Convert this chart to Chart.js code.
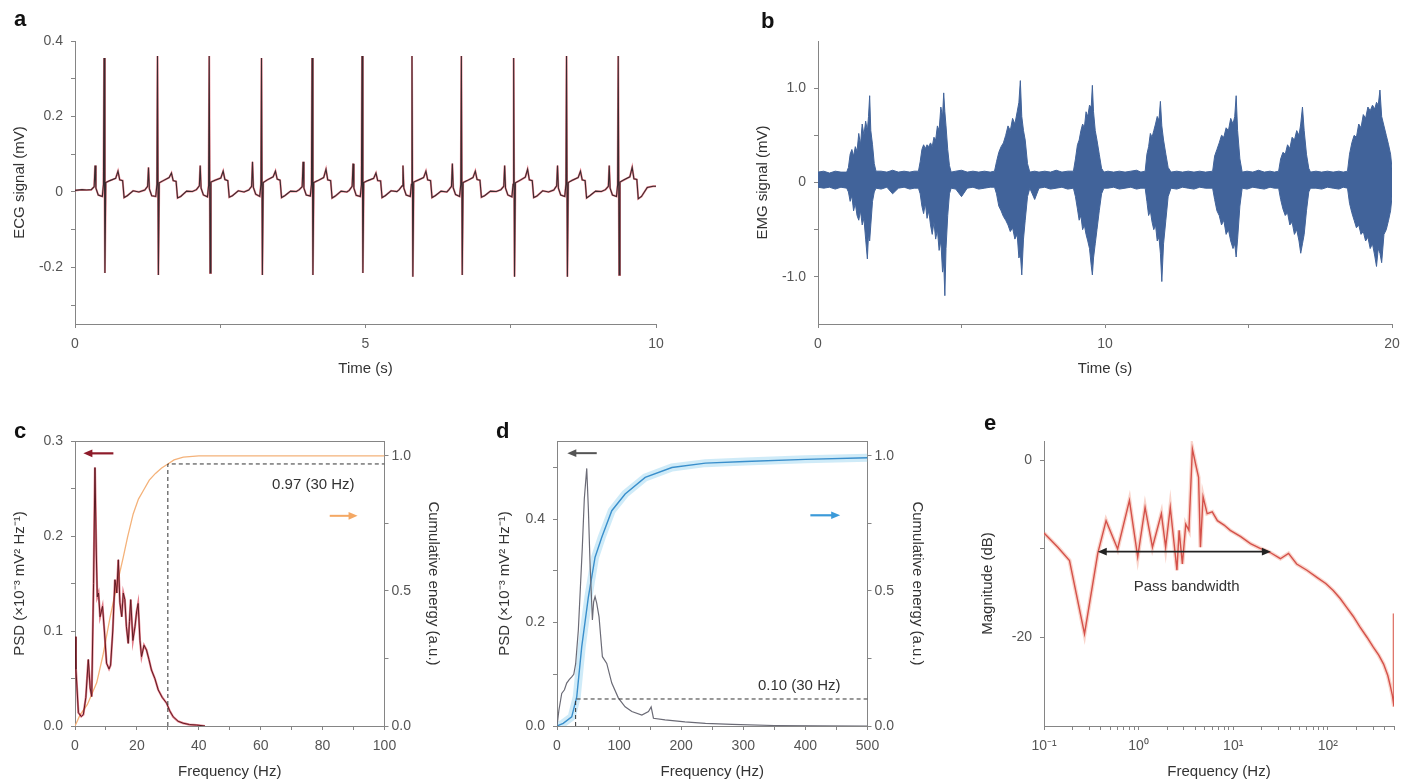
<!DOCTYPE html>
<html><head><meta charset="utf-8">
<script src="https://cdn.jsdelivr.net/npm/chart.js@4.4.1/dist/chart.umd.min.js"></script>
<style>
html,body{margin:0;padding:0;background:#fff;}
#fig{position:relative;width:1413px;height:783px;overflow:hidden;background:#fff;}
canvas{position:absolute;}
.lbl{position:absolute;font:bold 22px 'Liberation Sans',Arial,sans-serif;color:#111;line-height:1;}
</style></head><body>
<div id="fig">
<canvas id="ca" width="700" height="390" style="left:0;top:0;width:700px;height:390px"></canvas>
<canvas id="cb" width="673" height="390" style="left:740px;top:0;width:673px;height:390px"></canvas>
<canvas id="cc" width="480" height="383" style="left:0;top:400px;width:480px;height:383px"></canvas>
<canvas id="cd" width="470" height="383" style="left:480px;top:400px;width:470px;height:383px"></canvas>
<canvas id="ce" width="463" height="383" style="left:950px;top:400px;width:463px;height:383px"></canvas>
<div class="lbl" style="left:14px;top:8px">a</div>
<div class="lbl" style="left:761px;top:10px">b</div>
<div class="lbl" style="left:14px;top:420px">c</div>
<div class="lbl" style="left:496px;top:420px">d</div>
<div class="lbl" style="left:984px;top:412px">e</div>
</div>
<script>
// ---------- Panel a: ECG ----------
const ecgTime = [0,0.12,0.2,
0.28,0.33,0.345,0.36,0.40,0.47,0.49,0.50,0.515,0.53,0.60,0.70,0.74,0.77,0.82,0.845,0.90,1.00,1.10,
1.20,1.25,1.265,1.28,1.32,1.39,1.41,1.42,1.435,1.45,1.52,1.62,1.66,1.69,1.74,1.765,1.82,1.92,2.02,
2.09,2.14,2.155,2.17,2.21,2.28,2.30,2.31,2.325,2.34,2.41,2.51,2.55,2.58,2.63,2.655,2.71,2.81,2.91,
2.99,3.04,3.055,3.07,3.11,3.18,3.20,3.21,3.225,3.24,3.31,3.41,3.45,3.48,3.53,3.555,3.61,3.71,3.81,
3.86,3.91,3.925,3.94,3.98,4.05,4.07,4.08,4.095,4.11,4.18,4.28,4.32,4.35,4.40,4.425,4.48,4.58,4.68,
4.72,4.77,4.785,4.80,4.84,4.91,4.93,4.94,4.955,4.97,5.04,5.14,5.18,5.21,5.26,5.285,5.34,5.44,5.54,
5.58,5.63,5.645,5.66,5.70,5.77,5.79,5.80,5.815,5.83,5.90,6.00,6.04,6.07,6.12,6.145,6.20,6.30,6.40,
6.43,6.48,6.495,6.51,6.55,6.62,6.64,6.65,6.665,6.68,6.75,6.85,6.89,6.92,6.97,6.995,7.05,7.15,7.25,
7.33,7.38,7.395,7.41,7.45,7.52,7.54,7.55,7.565,7.58,7.65,7.75,7.79,7.82,7.87,7.895,7.95,8.05,8.15,
8.24,8.29,8.305,8.32,8.36,8.43,8.45,8.46,8.475,8.49,8.56,8.66,8.70,8.73,8.78,8.805,8.86,8.96,9.06,
9.13,9.18,9.195,9.21,9.25,9.32,9.34,9.35,9.365,9.38,9.45,9.55,9.59,9.62,9.67,9.695,9.75,9.85,9.95,
10.0];
const ecgValue = [0.004,0.006,0.005,
0.006,0.014,0.07,0.01,-0.008,-0.012,0.02,0.355,-0.215,0.025,0.03,0.036,0.055,0.032,0.03,-0.015,-0.01,0.003,0.0,
0.005,0.015,0.065,0.008,-0.01,-0.012,0.02,0.36,-0.22,0.024,0.03,0.038,0.05,0.03,0.028,-0.016,-0.012,0.002,0.001,
0.006,0.016,0.07,0.01,-0.008,-0.013,0.018,0.36,-0.215,0.026,0.031,0.037,0.055,0.033,0.03,-0.014,-0.01,0.003,0.0,
0.005,0.015,0.08,0.012,-0.006,-0.012,0.02,0.355,-0.22,0.025,0.032,0.04,0.055,0.034,0.031,-0.015,-0.01,0.002,0.001,
0.006,0.014,0.08,0.01,-0.008,-0.011,0.02,0.355,-0.22,0.025,0.03,0.038,0.06,0.032,0.03,-0.016,-0.011,0.002,0.0,
0.004,0.015,0.075,0.01,-0.009,-0.012,0.019,0.36,-0.215,0.025,0.03,0.036,0.05,0.03,0.029,-0.015,-0.01,0.003,0.001,
0.006,0.016,0.07,0.01,-0.008,-0.012,0.02,0.36,-0.225,0.026,0.031,0.038,0.055,0.032,0.03,-0.015,-0.01,0.002,0.0,
0.005,0.015,0.075,0.011,-0.007,-0.012,0.02,0.36,-0.22,0.025,0.03,0.038,0.055,0.033,0.031,-0.014,-0.01,0.002,0.001,
0.006,0.015,0.07,0.01,-0.008,-0.013,0.02,0.355,-0.225,0.024,0.03,0.039,0.06,0.032,0.03,-0.015,-0.011,0.003,0.0,
0.005,0.016,0.07,0.01,-0.008,-0.012,0.021,0.36,-0.225,0.025,0.031,0.038,0.055,0.032,0.03,-0.016,-0.01,0.002,0.001,
0.006,0.015,0.07,0.01,-0.008,-0.012,0.02,0.36,-0.22,0.026,0.032,0.04,0.065,0.035,0.033,-0.018,-0.012,0.012,0.015,
0.015];

// ---------- Panel b: EMG envelope ----------
const emgTime = [0,0.2,0.4,0.6,0.8,
1.00,1.06,1.12,1.18,1.24,1.30,1.36,1.42,1.48,1.54,1.60,1.66,1.72,1.76,1.80,1.84,1.90,1.96,2.02,
2.2,2.4,2.6,2.8,3.0,3.2,3.35,
3.50,3.56,3.62,3.68,3.74,3.80,3.86,3.92,3.98,4.04,4.10,4.16,4.22,4.28,4.34,4.38,4.42,4.46,4.52,4.58,4.64,
4.8,5.0,5.2,5.4,5.6,5.8,6.0,
6.15,6.22,6.30,6.38,6.46,6.54,6.62,6.70,6.78,6.86,6.94,7.00,7.05,7.10,7.16,7.22,7.30,7.38,
7.55,7.7,7.9,8.1,8.3,8.5,8.7,
8.90,8.97,9.04,9.10,9.16,9.22,9.28,9.34,9.40,9.46,9.52,9.56,9.60,9.66,9.72,9.80,9.88,9.96,
10.1,10.3,10.5,10.7,10.9,11.1,11.25,
11.40,11.46,11.52,11.58,11.64,11.70,11.76,11.82,11.88,11.93,11.98,12.04,12.12,12.20,12.30,
12.5,12.7,12.9,13.1,13.3,13.5,
13.75,13.82,13.90,13.98,14.06,14.14,14.22,14.30,14.38,14.46,14.52,14.57,14.62,14.70,14.78,
14.95,15.15,15.35,15.55,15.75,15.9,
16.05,16.12,16.20,16.28,16.36,16.44,16.52,16.60,16.68,16.76,16.82,16.88,16.94,17.02,17.10,17.16,
17.35,17.55,17.75,17.95,18.15,18.3,
18.45,18.52,18.60,18.68,18.76,18.84,18.92,19.00,19.08,19.16,19.24,19.32,19.40,19.46,19.52,19.58,19.64,19.72,19.80,19.88,19.95,20.00];
const emgUpper = [0.11,0.12,0.10,0.12,0.11,
0.11,0.16,0.30,0.35,0.28,0.38,0.33,0.52,0.40,0.62,0.50,0.65,0.55,0.70,0.92,0.55,0.40,0.20,0.12,
0.12,0.11,0.13,0.11,0.12,0.11,0.12,
0.12,0.22,0.35,0.40,0.36,0.40,0.38,0.42,0.38,0.48,0.45,0.60,0.55,0.80,0.70,0.95,0.75,0.60,0.35,0.18,0.11,
0.12,0.13,0.11,0.12,0.11,0.12,0.11,
0.12,0.22,0.32,0.38,0.42,0.50,0.60,0.55,0.68,0.62,0.75,0.85,1.08,0.70,0.55,0.45,0.20,0.11,
0.12,0.11,0.12,0.11,0.13,0.11,0.12,
0.12,0.25,0.40,0.45,0.55,0.62,0.58,0.75,0.70,0.82,0.80,1.03,0.75,0.55,0.45,0.30,0.15,0.11,
0.12,0.11,0.12,0.11,0.12,0.13,0.11,
0.12,0.30,0.38,0.52,0.48,0.55,0.62,0.70,0.66,0.86,0.60,0.45,0.30,0.16,0.11,
0.12,0.11,0.12,0.11,0.12,0.11,
0.12,0.28,0.35,0.42,0.50,0.48,0.58,0.55,0.68,0.62,0.70,0.92,0.55,0.25,0.11,
0.12,0.11,0.13,0.11,0.12,0.11,
0.12,0.25,0.32,0.30,0.40,0.36,0.48,0.45,0.55,0.50,0.62,0.80,0.55,0.30,0.15,0.11,
0.12,0.11,0.12,0.11,0.12,0.11,
0.12,0.30,0.42,0.50,0.48,0.62,0.58,0.72,0.68,0.80,0.76,0.82,0.78,0.85,0.82,0.98,0.70,0.60,0.50,0.40,0.30,0.15];
const emgLower = [-0.05,-0.06,-0.05,-0.07,-0.05,
-0.06,-0.10,-0.20,-0.14,-0.30,-0.22,-0.35,-0.40,-0.30,-0.45,-0.38,-0.60,-0.81,-0.55,-0.62,-0.45,-0.20,-0.10,-0.06,
-0.07,-0.05,-0.12,-0.06,-0.05,-0.07,-0.06,
-0.06,-0.12,-0.25,-0.33,-0.22,-0.38,-0.30,-0.45,-0.55,-0.42,-0.60,-0.50,-0.72,-0.62,-0.95,-0.85,-1.20,-0.70,-0.35,-0.12,-0.06,
-0.07,-0.15,-0.06,-0.05,-0.07,-0.06,-0.05,
-0.05,-0.12,-0.25,-0.30,-0.36,-0.40,-0.45,-0.52,-0.48,-0.60,-0.55,-0.80,-0.75,-0.98,-0.60,-0.40,-0.15,-0.06,
-0.18,-0.06,-0.05,-0.07,-0.06,-0.05,-0.07,
-0.06,-0.15,-0.28,-0.40,-0.35,-0.50,-0.45,-0.55,-0.62,-0.70,-0.88,-0.98,-0.80,-0.65,-0.50,-0.30,-0.12,-0.06,
-0.06,-0.05,-0.07,-0.06,-0.05,-0.07,-0.06,
-0.06,-0.20,-0.35,-0.30,-0.42,-0.50,-0.45,-0.62,-0.58,-0.75,-1.05,-0.65,-0.40,-0.15,-0.06,
-0.07,-0.05,-0.06,-0.07,-0.05,-0.06,
-0.06,-0.18,-0.30,-0.35,-0.45,-0.40,-0.55,-0.50,-0.62,-0.70,-0.65,-0.79,-0.60,-0.25,-0.06,
-0.07,-0.05,-0.06,-0.07,-0.05,-0.06,
-0.06,-0.18,-0.28,-0.35,-0.32,-0.45,-0.42,-0.55,-0.50,-0.62,-0.75,-0.65,-0.55,-0.30,-0.10,-0.06,
-0.06,-0.07,-0.05,-0.06,-0.07,-0.05,
-0.06,-0.22,-0.32,-0.40,-0.48,-0.45,-0.55,-0.52,-0.62,-0.58,-0.70,-0.65,-0.78,-0.89,-0.70,-0.75,-0.85,-0.55,-0.50,-0.40,-0.30,-0.15];

// ---------- Panel c: ECG PSD + cumulative energy ----------
const cFreq = [0,0.3,1.1,2.0,2.7,3.5,4.3,4.9,5.4,6.0,
6.45,6.9,7.2,7.6,8.1,8.9,9.5,10.2,11.0,11.5,
12.2,12.9,13.5,14.0,14.5,15.1,15.6,16.1,16.6,17.2,
17.6,18.0,18.7,19.4,19.9,20.4,21.0,21.5,22.3,23.1,
23.9,24.7,25.8,26.9,28.2,29.6,30.6,31.7,33.3,34.9,
37.0,39.3,42.0];
const cPsd = [0.094,0.06,0.014,0.01,0.012,0.03,0.07,0.04,0.031,0.15,
0.272,0.18,0.136,0.14,0.115,0.126,0.10,0.066,0.06,0.064,
0.10,0.154,0.14,0.175,0.13,0.115,0.14,0.133,0.105,0.087,
0.11,0.133,0.09,0.105,0.12,0.129,0.09,0.073,0.085,0.08,
0.07,0.059,0.05,0.038,0.03,0.024,0.016,0.0098,0.005,0.003,
0.0015,0.001,0];
const cCumFreq = [0,1.6,4,7,9,11.3,13.5,15.6,17,18.8,20.5,22,24,26,28,30,32,35,40,50,70,100];
const cCum = [0,0.04,0.08,0.16,0.26,0.40,0.52,0.625,0.70,0.785,0.84,0.87,0.91,0.935,0.955,0.97,0.985,0.995,1.0,1.0,1.0,1.0];
const cMarkFreq = 30, cMarkEnergy = 0.97;

// ---------- Panel d: EMG PSD + cumulative energy ----------
const dFreq = [0,3,7.6,12,15.6,20,23.7,27,30,34.4,
40.8,44,47.9,50.5,53.2,57,59,61.3,64,67.7,
73.1,80.1,88.2,98.9,109.7,120.5,136.6,147.3,151.6,155.3,
174,206,239,282,350,420,500];
const dPsd = [0,0.03,0.063,0.07,0.083,0.09,0.095,0.1,0.12,0.186,
0.346,0.44,0.498,0.42,0.314,0.205,0.24,0.25,0.237,0.211,
0.134,0.121,0.083,0.054,0.037,0.028,0.021,0.028,0.037,0.015,
0.012,0.008,0.005,0.003,0.001,0.0005,0];
const dCumFreq = [0,10,23.7,31.8,39.8,50.5,61.3,72.1,88.2,109.7,142,185,239,303,400,500];
const dCum = [0,0.01,0.034,0.108,0.293,0.477,0.625,0.699,0.797,0.859,0.92,0.957,0.973,0.979,0.987,0.993];
const dMarkFreq = 30, dMarkEnergy = 0.10;

// ---------- Panel e: magnitude response ----------
const eFreq = [0.1,0.14,0.186,0.268,0.37,0.453,0.6,0.8,0.978,1.17,
1.4,1.74,1.93,2.16,2.54,2.68,2.9,3.15,3.4,3.7,
4.0,4.3,4.5,4.8,5.3,6.0,6.8,8.0,9.3,12,
15.2,19,24.6,31.5,38.4,46.8,60,76.5,95,114,
135,158,185,218,260,302,345,388,430,460,
480,500,500];
const eMag = [-8.2,-9.8,-11.3,-19.6,-10.5,-6.8,-10,-4.5,-10.9,-5.3,
-9.8,-6.0,-9.8,-5.3,-12.4,-7.9,-11.7,-7.2,-7.9,1.3,
-0.4,-1.9,-9.8,-4.1,-6.0,-5.8,-6.8,-7.3,-7.9,-8.6,
-9.4,-9.9,-10.4,-11.1,-10.5,-11.7,-12.4,-13.2,-13.9,-14.7,
-15.6,-16.6,-17.6,-18.8,-20.0,-21.1,-22.0,-23.0,-24.3,-25.6,
-26.5,-27.8,-17.3];
const passBand = [0.37, 25], passLevel = -10.3;

// ---------- helpers ----------
const FONT = "'Liberation Sans', Arial, Helvetica, sans-serif";
Chart.defaults.font.family = FONT;
Chart.defaults.color = '#555';
const AX = '#858585';
function xy(xs, ys){ const n=Math.min(xs.length, ys.length); const o=[]; for(let i=0;i<n;i++) o.push({x:xs[i], y:ys[i]}); return o; }

function sc(o){
  return {
    type: o.type || 'linear',
    position: o.position,
    min: o.min, max: o.max,
    border: {display:true, color:AX, width:1},
    grid: {display:true, drawOnChartArea:false, drawTicks:true, tickLength:4, color:AX},
    ticks: {color:'#555', font:{size:14, family:FONT}, padding:(o.tickPad!=null?o.tickPad:8), autoSkip:false, maxRotation:0, minRotation:0,
            callback:(v)=> (o.labels[String(v)] !== undefined ? o.labels[String(v)] : '')},
    afterBuildTicks: s => { s.ticks = o.ticks.map(v=>({value:v})); },
    afterFit: s => { if (s.isHorizontal()) s.height = o.size; else s.width = o.size; },
    title: o.title ? {display:true, text:o.title, color:'#333', font:{size:15, family:FONT}, padding:o.titlePad} : {display:false}
  };
}

function drawArrow(ctx, xa, xb, y, color, lw, hs, he){
  const hl = 9, hw = 3.8;
  ctx.save();
  ctx.strokeStyle = color; ctx.fillStyle = color; ctx.lineWidth = lw;
  ctx.beginPath(); ctx.moveTo(xa + (hs?hl*0.7:0), y); ctx.lineTo(xb - (he?hl*0.7:0), y); ctx.stroke();
  if (hs){ ctx.beginPath(); ctx.moveTo(xa,y); ctx.lineTo(xa+hl,y-hw); ctx.lineTo(xa+hl,y+hw); ctx.closePath(); ctx.fill(); }
  if (he){ ctx.beginPath(); ctx.moveTo(xb,y); ctx.lineTo(xb-hl,y-hw); ctx.lineTo(xb-hl,y+hw); ctx.closePath(); ctx.fill(); }
  ctx.restore();
}

const annotPlugin = {
  id: 'annot',
  afterDatasetsDraw(chart, args, opts){
    const ctx = chart.ctx, ca = chart.chartArea;
    if (opts.topBorder){
      ctx.save(); ctx.strokeStyle = AX; ctx.lineWidth = 1;
      ctx.beginPath(); ctx.moveTo(ca.left, ca.top+0.5); ctx.lineTo(ca.right, ca.top+0.5); ctx.stroke(); ctx.restore();
    }
    (opts.arrows||[]).forEach(a=>{
      const xs = chart.scales.x, ys = chart.scales[a.axis||'y'];
      drawArrow(ctx, xs.getPixelForValue(a.x1), xs.getPixelForValue(a.x2), ys.getPixelForValue(a.y), a.color, a.width||2, a.hs, a.he);
    });
    (opts.texts||[]).forEach(t=>{
      const xs = chart.scales.x, ys = chart.scales[t.axis||'y'];
      ctx.save(); ctx.fillStyle = t.color||'#333'; ctx.font = (t.size||15)+'px '+FONT;
      ctx.textAlign='center'; ctx.textBaseline='middle';
      ctx.fillText(t.text, xs.getPixelForValue(t.x), ys.getPixelForValue(t.y));
      ctx.restore();
    });
  }
};
Chart.register(annotPlugin);

const common = {responsive:false, animation:false, devicePixelRatio:1,
  elements:{point:{radius:0}, line:{tension:0}},
  plugins:{legend:{display:false}, tooltip:{enabled:false}}};
function opts(extra){ return Object.assign({}, common, extra, {plugins:Object.assign({}, common.plugins, extra.plugins||{})}); }
function line(data, color, width, more){ return Object.assign({data, borderColor:color, borderWidth:width, pointRadius:0, fill:false}, more||{}); }

// ---------- a ----------
const ecgXY = xy(ecgTime, ecgValue);
new Chart(document.getElementById('ca'), {
  type:'line',
  data:{datasets:[
    line(ecgXY, '#3a2a2e', 1.1, {order:1}),
    line(ecgXY, 'rgba(222,32,52,0.55)', 2, {order:2})
  ]},
  options: opts({
    layout:{padding:{left:0, top:41, right:44, bottom:0}},
    scales:{
      x: sc({min:0, max:10, ticks:[0,2.5,5,7.5,10], labels:{'0':'0','5':'5','10':'10'}, size:66, title:'Time (s)', titlePad:{top:0,bottom:12}}),
      y: sc({min:-0.35, max:0.4, ticks:[-0.3,-0.2,-0.1,0,0.1,0.2,0.3,0.4], labels:{'-0.2':'-0.2','0':'0','0.2':'0.2','0.4':'0.4'}, size:75, title:'ECG signal (mV)', titlePad:{top:11,bottom:0}})
    }
  })
});

// ---------- b ----------
const EMG = '#41639a';
new Chart(document.getElementById('cb'), {
  type:'line',
  data:{datasets:[
    line(xy(emgTime, emgUpper), EMG, 1, {order:1}),
    line(xy(emgTime, emgLower), EMG, 1, {order:2, fill:'-1', backgroundColor:EMG})
  ]},
  options: opts({
    layout:{padding:{left:0, top:41, right:21, bottom:0}},
    scales:{
      x: sc({min:0, max:20, ticks:[0,5,10,15,20], labels:{'0':'0','10':'10','20':'20'}, size:66, title:'Time (s)', titlePad:{top:0,bottom:12}}),
      y: sc({min:-1.5, max:1.5, ticks:[-1,-0.5,0,0.5,1], labels:{'-1':'-1.0','0':'0','1':'1.0'}, size:78, title:'EMG signal (mV)', titlePad:{top:14,bottom:0}})
    }
  })
});

// ---------- c ----------
new Chart(document.getElementById('cc'), {
  type:'line',
  data:{datasets:[
    line([{x:cMarkFreq,y:0},{x:cMarkFreq,y:cMarkEnergy},{x:100,y:cMarkEnergy}], '#333', 1, {yAxisID:'y2', borderDash:[4,3], order:0}),
    line(xy(cFreq, cPsd), '#5e1a22', 1, {yAxisID:'y', order:1}),
    line(xy(cFreq, cPsd), 'rgba(208,36,56,0.6)', 2.2, {yAxisID:'y', order:2}),
    line(xy(cCumFreq, cCum), '#f4b27a', 1.3, {yAxisID:'y2', order:3})
  ]},
  options: opts({
    layout:{padding:{left:0, top:41, right:0, bottom:0}},
    scales:{
      x: sc({min:0, max:100, ticks:[0,10,20,30,40,50,60,70,80,90,100], labels:{'0':'0','20':'20','40':'40','60':'60','80':'80','100':'100'}, size:57, title:'Frequency (Hz)', titlePad:{top:0,bottom:2}}),
      y: sc({min:0, max:0.3, ticks:[0,0.05,0.1,0.15,0.2,0.25,0.3], labels:{'0':'0.0','0.1':'0.1','0.2':'0.2','0.3':'0.3'}, size:75, title:'PSD (×10⁻³ mV² Hz⁻¹)', titlePad:{top:11,bottom:0}}),
      y2: sc({position:'right', min:0, max:1.055, ticks:[0,0.25,0.5,0.75,1], labels:{'0':'0.0','0.5':'0.5','1':'1.0'}, size:95.5, tickPad:3, title:'Cumulative energy (a.u.)', titlePad:{top:38,bottom:0}})
    },
    plugins:{annot:{topBorder:true,
      arrows:[{x1:2.7, x2:12.4, y:0.287, axis:'y', color:'#8e1b2a', width:2.2, hs:true},
              {x1:82.3, x2:91.3, y:0.778, axis:'y2', color:'#f4a864', width:2, he:true}],
      texts:[{x:77, y:0.893, axis:'y2', text:'0.97 (30 Hz)'}]}}
  })
});

// ---------- d ----------
new Chart(document.getElementById('cd'), {
  type:'line',
  data:{datasets:[
    line([{x:dMarkFreq,y:0},{x:dMarkFreq,y:dMarkEnergy},{x:500,y:dMarkEnergy}], '#333', 1, {yAxisID:'y2', borderDash:[4,3], order:0}),
    line(xy(dFreq, dPsd), '#6b6b76', 1.2, {yAxisID:'y', order:1}),
    line(xy(dCumFreq, dCum), '#3a8fcc', 1.4, {yAxisID:'y2', order:2}),
    line(xy(dCumFreq, dCum), 'rgba(160,215,242,0.5)', 8, {yAxisID:'y2', order:3})
  ]},
  options: opts({
    layout:{padding:{left:0, top:41, right:0, bottom:0}},
    scales:{
      x: sc({min:0, max:500, ticks:[0,50,100,150,200,250,300,350,400,450,500], labels:{'0':'0','100':'100','200':'200','300':'300','400':'400','500':'500'}, size:57, title:'Frequency (Hz)', titlePad:{top:0,bottom:2}}),
      y: sc({min:0, max:0.551, ticks:[0,0.1,0.2,0.3,0.4,0.5], labels:{'0':'0.0','0.2':'0.2','0.4':'0.4'}, size:77, title:'PSD (×10⁻³ mV² Hz⁻¹)', titlePad:{top:16,bottom:0}}),
      y2: sc({position:'right', min:0, max:1.055, ticks:[0,0.25,0.5,0.75,1], labels:{'0':'0.0','0.5':'0.5','1':'1.0'}, size:82.5, tickPad:3, title:'Cumulative energy (a.u.)', titlePad:{top:24,bottom:0}})
    },
    plugins:{annot:{topBorder:true,
      arrows:[{x1:16.6, x2:64, y:0.5275, axis:'y', color:'#555', width:2, hs:true},
              {x1:408, x2:456, y:0.78, axis:'y2', color:'#3b9ad9', width:2.2, he:true}],
      texts:[{x:390, y:0.148, axis:'y2', text:'0.10 (30 Hz)'}]}}
  })
});

// ---------- e ----------
new Chart(document.getElementById('ce'), {
  type:'line',
  data:{datasets:[
    line(xy(eFreq, eMag), '#d4514a', 1.4, {order:1}),
    line(xy(eFreq, eMag), 'rgba(242,160,140,0.45)', 4, {order:2})
  ]},
  options: opts({
    layout:{padding:{left:0, top:41, right:19, bottom:0}},
    scales:{
      x: sc({type:'logarithmic', min:0.1, max:500,
        ticks:[0.1,0.2,0.3,0.4,0.5,0.6,0.7,0.8,0.9,1,2,3,4,5,6,7,8,9,10,20,30,40,50,60,70,80,90,100,200,300,400,500],
        labels:{'0.1':'10⁻¹','1':'10⁰','10':'10¹','100':'10²'}, size:57, title:'Frequency (Hz)', titlePad:{top:0,bottom:2}}),
      y: sc({min:-30, max:2.2, ticks:[-20,-10,0], labels:{'0':'0','-20':'-20'}, size:94, title:'Magnitude (dB)', titlePad:{top:29,bottom:0}})
    },
    plugins:{annot:{
      arrows:[{x1:passBand[0], x2:passBand[1], y:passLevel, axis:'y', color:'#222', width:1.6, hs:true, he:true}],
      texts:[{x:3.22, y:-14.3, axis:'y', text:'Pass bandwidth'}]}}
  })
});
</script>
</body></html>
